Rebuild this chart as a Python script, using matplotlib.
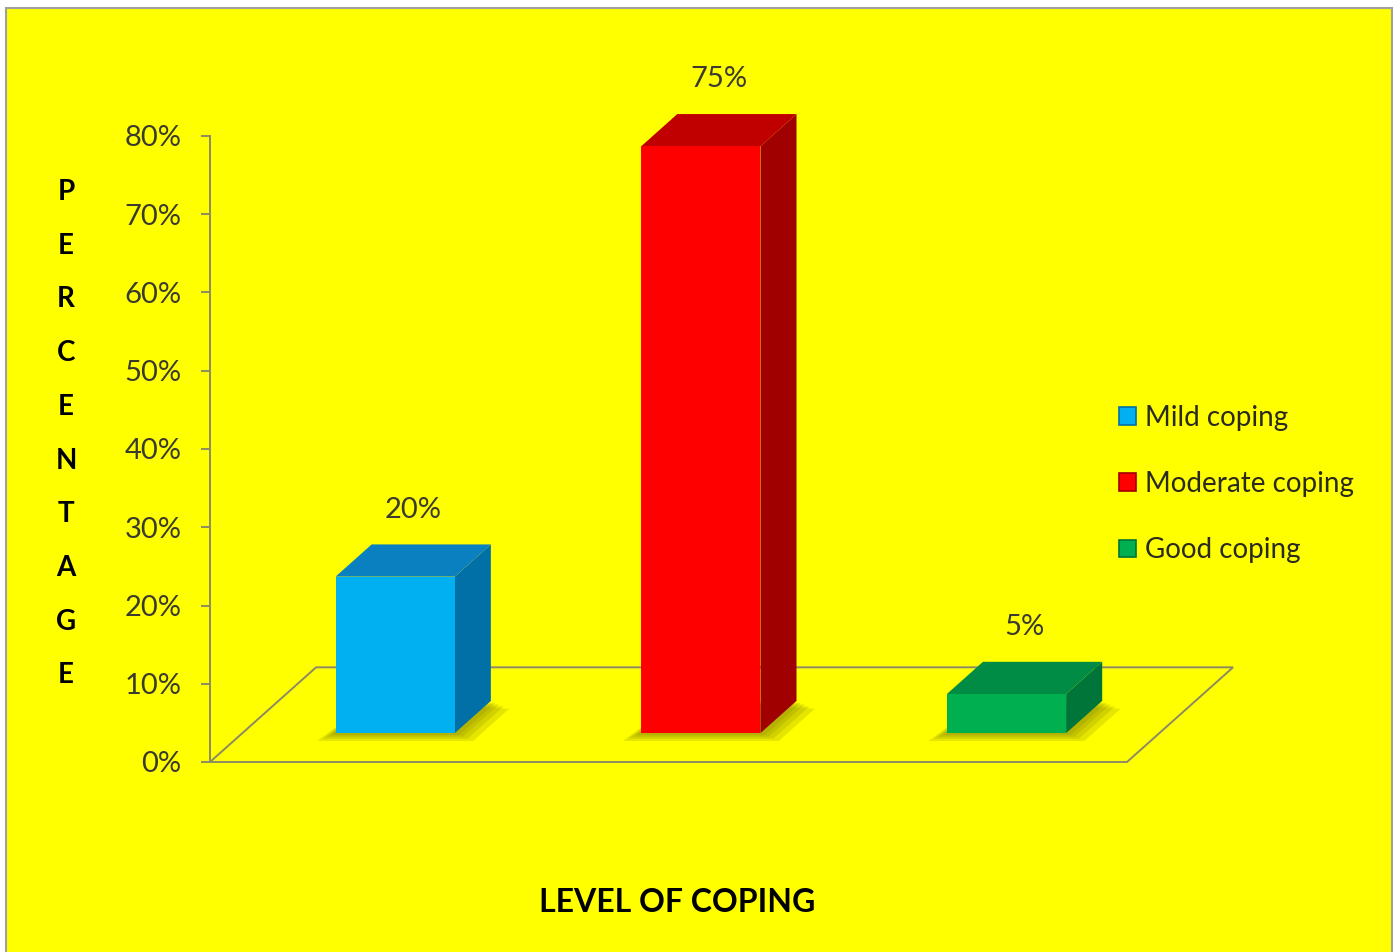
import numpy as np
import matplotlib
matplotlib.use('Agg')
import matplotlib.pyplot as plt
from matplotlib.patches import Polygon, Rectangle, Patch

# data
categories = ['Mild coping', 'Moderate coping', 'Good coping']
values = [20, 75, 5]
value_labels = ['20%', '75%', '5%']
yticks = [0, 10, 20, 30, 40, 50, 60, 70, 80]
ytick_labels = ['0%', '10%', '20%', '30%', '40%', '50%', '60%', '70%', '80%']

front_colors = ['#00B0F0', '#FF0000', '#00B050']
top_colors = ['#0b80c0', '#c00000', '#008c44']
side_colors = ['#0070a6', '#a00000', '#007539']

plt.rcParams['font.family'] = ['Lato', 'DejaVu Sans']

W, H = 1398, 952
fig = plt.figure(figsize=(W / 100, H / 100), dpi=100)
fig.patch.set_facecolor('white')

# yellow chart area with thin grey border
fig.patches.append(Rectangle((6 / W, -0.01), (1392 - 6) / W, (952 - 8) / H + 0.01,
                             transform=fig.transFigure, facecolor='#FFFF00',
                             edgecolor='#a0a0a0', lw=1.5, zorder=-10))

ax = fig.add_axes([210 / W, 190 / H, 917 / W, 626 / H])
ax.patch.set_visible(False)
ax.set_xlim(0, 3)
ax.set_ylim(0, 80)

# oblique depth of the floor (x units, y units)
floor_dx, floor_dy = 0.347, 12.1
# bar placement inside the floor depth
bar_front = 0.305
bar_depth = 0.34
bar_width = 0.39
line_col = '#8c8a66'

floor = Polygon([(0, 0), (3, 0), (3 + floor_dx, floor_dy), (floor_dx, floor_dy)],
                closed=True, fill=False, edgecolor=line_col, lw=1.4, clip_on=False, zorder=1)
ax.add_patch(floor)

ox, oy = bar_front * floor_dx, bar_front * floor_dy
bdx, bdy = bar_depth * floor_dx, bar_depth * floor_dy

for i, v in enumerate(values):
    xc = i + 0.5
    x0 = xc - bar_width / 2 + ox
    x1 = xc + bar_width / 2 + ox
    base = oy
    top = oy + v

    # soft olive shadow around the foot of the bar
    for k in [1.0, 0.7, 0.45, 0.25]:
        L, D, R = 0.06 * k, 1.0 * k, 0.06 * k
        sh = Polygon([(x0 - L, base - D), (x1 + R, base - D),
                      (x1 + bdx + R, base + bdy - D), (x0 + bdx, base + bdy)],
                     closed=True, facecolor='#8a8a00', edgecolor='none', alpha=0.22,
                     clip_on=False, zorder=2)
        ax.add_patch(sh)

    front = Polygon([(x0, base), (x1, base), (x1, top), (x0, top)], closed=True,
                    facecolor=front_colors[i], edgecolor='none', clip_on=False, zorder=4)
    side = Polygon([(x1, base), (x1 + bdx, base + bdy), (x1 + bdx, top + bdy), (x1, top)],
                   closed=True, facecolor=side_colors[i], edgecolor='none', clip_on=False, zorder=3)
    lid = Polygon([(x0, top), (x1, top), (x1 + bdx, top + bdy), (x0 + bdx, top + bdy)],
                  closed=True, facecolor=top_colors[i], edgecolor='none', clip_on=False, zorder=3)
    ax.add_patch(side)
    ax.add_patch(lid)
    ax.add_patch(front)

    ax.annotate(value_labels[i], (xc + ox + bdx / 2, top + bdy), xytext=(0, 25),
                textcoords='offset points', ha='center', va='center',
                fontsize=21, color='#3a3a30', annotation_clip=False)

# value axis
for s in ['top', 'right', 'bottom']:
    ax.spines[s].set_visible(False)
ax.spines['left'].set_color(line_col)
ax.spines['left'].set_linewidth(1.4)
ax.set_yticks(yticks)
ax.set_yticklabels(ytick_labels)
ax.tick_params(axis='y', direction='out', length=6.5, width=1.4, color=line_col,
               pad=14, labelsize=21, labelcolor='#3a3a30')
ax.set_xticks([])

# vertical stacked axis title
for j, ch in enumerate('PERCENTAGE'):
    fig.text(66 / W, 1 - (192 + j * 53.7) / H, ch, ha='center', va='center',
             fontsize=20, fontweight='bold', color='black')

fig.text(677 / W, 1 - 903 / H, 'LEVEL OF COPING', ha='center', va='center',
         fontsize=23, fontweight='bold', color='black')

handles = [Patch(facecolor=front_colors[i], edgecolor=side_colors[i], lw=1.2)
           for i in range(len(categories))]
fig.legend(handles, categories, loc='center left', bbox_to_anchor=(1094 / W, 1 - 484 / H),
           frameon=False, fontsize=20, handlelength=0.6, handleheight=0.6,
           handletextpad=0.35, labelspacing=1.45, labelcolor='#2a2a20')

fig.savefig('out.png', dpi=100, facecolor=fig.get_facecolor())
